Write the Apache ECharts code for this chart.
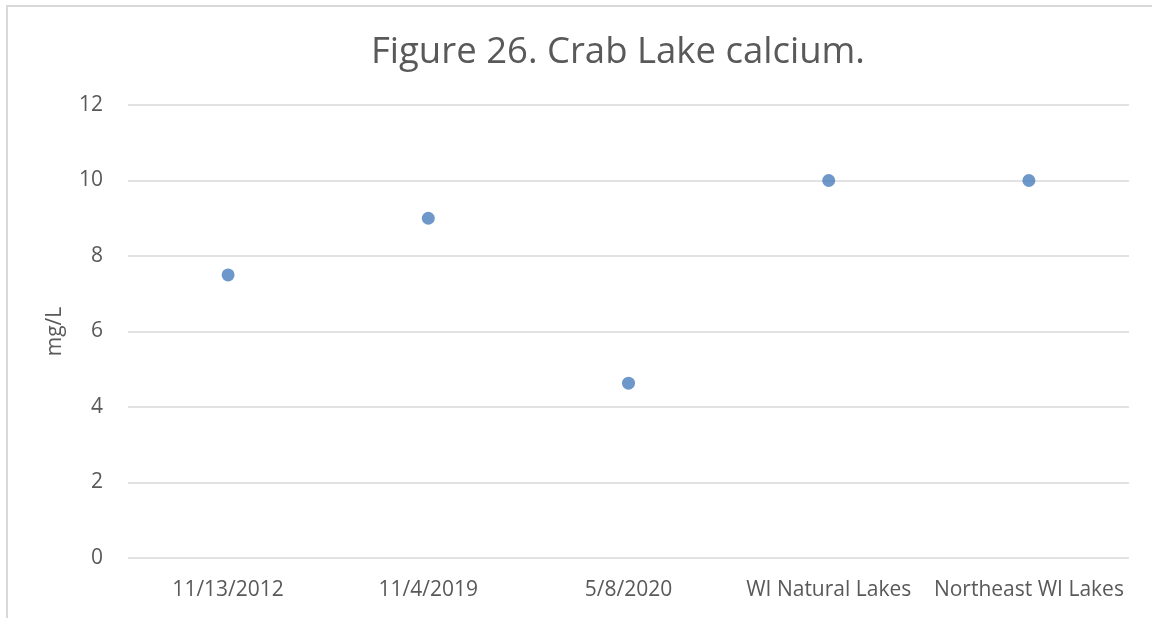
<!DOCTYPE html>
<html>
<head>
<meta charset="utf-8">
<title>Crab Lake calcium</title>
<script src="https://cdn.jsdelivr.net/npm/echarts@6/dist/echarts.min.js"></script>
<style>
  html, body { margin: 0; padding: 0; background: #fff; }
  #chart { width: 1152px; height: 618px; }
</style>
</head>
<body>
<div id="chart"></div>
<script>
// Sample dates and reference averages
const categories = ['11/13/2012', '11/4/2019', '5/8/2020', 'WI Natural Lakes', 'Northeast WI Lakes'];
// Calcium concentration, mg/L
const calcium = [7.5, 9, 4.63, 10, 10];
const yTicks = { min: 0, max: 12, interval: 2 };

const textColor = '#595959';
const gridColor = '#d9d9d9';
const font = '"Open Sans", "Liberation Sans", sans-serif';

const chart = echarts.init(document.getElementById('chart'), null, { renderer: 'canvas' });

chart.setOption({
  backgroundColor: '#fff',
  animation: false,
  title: {
    text: 'Figure 26. Crab Lake calcium.',
    left: 366,
    top: 29,
    textStyle: { color: textColor, fontFamily: font, fontSize: 36.5, fontWeight: 'normal' }
  },
  graphic: [{
    type: 'rect',
    shape: { x: 7, y: 6, width: 1200, height: 700 },
    style: { fill: 'none', stroke: gridColor, lineWidth: 2 },
    silent: true
  }],
  grid: { left: 128, right: 23, top: 105, bottom: 60 },
  xAxis: {
    type: 'category',
    data: categories,
    boundaryGap: true,
    axisLine: { show: false },
    axisTick: { show: false },
    axisLabel: { color: textColor, fontFamily: font, fontSize: 21, margin: 22, interval: 0 }
  },
  yAxis: {
    type: 'value',
    min: yTicks.min,
    max: yTicks.max,
    interval: yTicks.interval,
    name: 'mg/L',
    nameLocation: 'middle',
    nameGap: 62,
    nameRotate: 90,
    nameTextStyle: { color: textColor, fontFamily: font, fontSize: 21 },
    axisLine: { show: false },
    axisTick: { show: false },
    axisLabel: { color: textColor, fontFamily: font, fontSize: 21, margin: 25 },
    splitLine: { lineStyle: { color: gridColor, width: 1.5 } }
  },
  series: [{
    type: 'scatter',
    data: calcium,
    symbol: 'circle',
    symbolSize: 13,
    itemStyle: { color: '#4a7ebb' }
  }]
});
</script>
</body>
</html>
